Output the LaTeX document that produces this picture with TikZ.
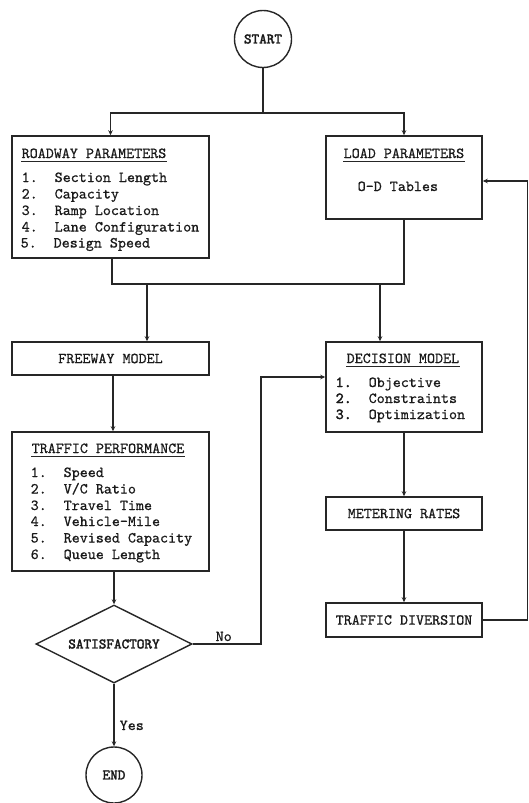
\documentclass[tikz,border=0pt]{standalone}
\usepackage{fontspec}
\usetikzlibrary{arrows.meta,shapes.geometric}
\newfontfamily\tw[FakeBold=0.7]{lmmono10-regular.otf}
\newfontfamily\twb[FakeBold=2.4]{lmmono10-regular.otf}
\newcommand\itm[2]{\makebox[33pt][l]{#1}#2}
\begin{document}
\begin{tikzpicture}[x=1pt,y=-1pt,line width=1.4pt,draw=black!85,text=black!90,
  every node/.style={font=\tw\fontsize{15.3}{16}\selectfont},
  box/.style={draw,rectangle,inner sep=0pt,line width=1.5pt},
  circ/.style={draw,circle,inner sep=0pt,minimum size=57pt,line width=1.4pt,font=\twb\fontsize{14.5}{16}\selectfont},
  txt/.style={inner sep=0pt,anchor=base west},
  ttl/.style={txt},
  arr/.style={-{Stealth[length=5pt,width=4.5pt]}}]
\useasboundingbox (0,0) rectangle (528,803);

% shapes
\node[circ] (start) at (263,39) {START};
\node[box,minimum width=197pt,minimum height=122pt] (road) at (110.5,197) {};
\node[box,minimum width=156pt,minimum height=83pt] (load) at (404,177.5) {};
\node[box,minimum width=197pt,minimum height=33pt] (free) at (110.5,358.5) {FREEWAY MODEL};
\node[box,minimum width=197pt,minimum height=139pt] (perf) at (110.5,501.5) {};
\node[box,minimum width=156pt,minimum height=90pt] (dec) at (404,387) {};
\node[box,minimum width=156pt,minimum height=33pt] (meter) at (404,513.5) {METERING RATES};
\node[box,minimum width=156pt,minimum height=34pt] (div) at (404,620) {TRAFFIC DIVERSION};
\node[draw,diamond,aspect=2,minimum width=156pt,minimum height=78pt,inner sep=0pt,line width=1.4pt,
  font=\twb\fontsize{14.5}{16}\selectfont] (sat) at (114,644) {SATISFACTORY};
\node[circ,minimum size=56pt] (end) at (114,775) {END};

% roadway text
\node[ttl] (roadt) at (21,158) {ROADWAY PARAMETERS};
\draw[line width=1.2pt] ([yshift=-3.5pt]roadt.base west) -- ([yshift=-3.5pt]roadt.base east);
\node[txt] (r1) at (21,182) {\itm{1.}{Section Length}};
\node[txt] (r2) at (21,198.5) {\itm{2.}{Capacity}};
\node[txt] (r3) at (21,215) {\itm{3.}{Ramp Location}};
\node[txt] (r4) at (21,231.5) {\itm{4.}{Lane Configuration}};
\node[txt] (r5) at (20,247.5) {\itm{5.}{Design Speed}};

% load text
\node[ttl] (loadt) at (343,158) {LOAD PARAMETERS};
\draw[line width=1.2pt] ([yshift=-3.5pt]loadt.base west) -- ([yshift=-3.5pt]loadt.base east);
\node[txt] (od) at (357,191) {O-D Tables};

% performance text
\node[ttl] (perft) at (31,453) {TRAFFIC PERFORMANCE};
\draw[line width=1.2pt] ([yshift=-3.5pt]perft.base west) -- ([yshift=-3.5pt]perft.base east);
\node[txt] (p1) at (30,477) {\itm{1.}{Speed}};
\node[txt] (p2) at (30,493.5) {\itm{2.}{V/C Ratio}};
\node[txt] (p3) at (30,510) {\itm{3.}{Travel Time}};
\node[txt] (p4) at (30,526) {\itm{4.}{Vehicle-Mile}};
\node[txt] (p5) at (30,542.5) {\itm{5.}{Revised Capacity}};
\node[txt] (p6) at (30,559) {\itm{6.}{Queue Length}};

% decision text
\node[ttl] (dect) at (346,363) {DECISION MODEL};
\draw[line width=1.2pt] ([yshift=-3.5pt]dect.base west) -- ([yshift=-3.5pt]dect.base east);
\node[txt] (d1) at (335,387) {\itm{\twb 1.}{Objective}};
\node[txt] (d2) at (335,403) {\itm{\twb 2.}{Constraints}};
\node[txt] (d3) at (335,419) {\itm{\twb 3.}{Optimization}};

% labels
\node[txt] (no) at (215,641) {No};
\node[txt] (yes) at (119,730) {Yes};

% connectors
\coordinate (j1) at (263,113);
\coordinate (j2) at (258,284);
\coordinate (rb) at (112,258);
\coordinate (fa) at (147,284);
\coordinate (da) at (380,284);
\coordinate (fp) at (113,375);
\coordinate (nb) at (261,377);
\coordinate (fb) at (527.3,181);
\draw (start) -- (j1);
\draw[arr] (j1) -| (road.north);
\draw[arr] (j1) -| (load.north);
\draw (rb) -- (rb |- j2) -- (load.south |- j2) -- (load.south);
\draw[arr] (fa) -- (fa |- free.north);
\draw[arr] (da) -- (da |- dec.north);
\draw[arr] (fp) -- (fp |- perf.north);
\draw[arr] (perf.south -| sat.north) -- (sat.north);
\draw[arr] (sat.east) -| (nb) -- (nb -| dec.west);
\draw[arr] (sat.south) -- (end.north);
\draw[arr] (dec.south) -- (meter.north);
\draw[arr] (meter.south) -- (div.north);
\draw[arr] (div.east) -| (fb) -- (fb -| load.east);
\end{tikzpicture}
\end{document}
